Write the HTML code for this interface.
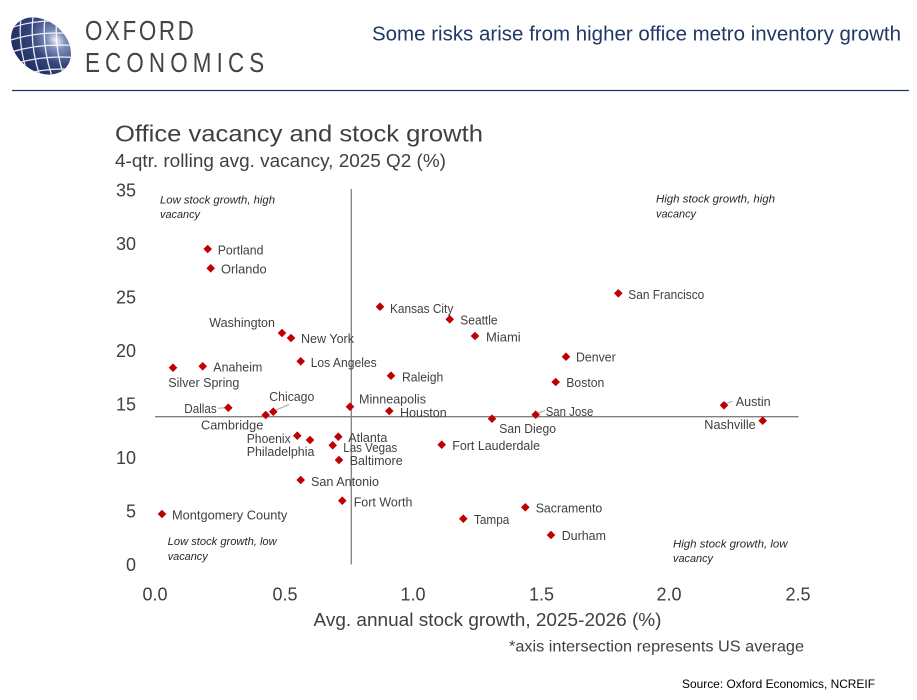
<!DOCTYPE html>
<html><head><meta charset="utf-8"><style>
html,body{margin:0;padding:0;background:#fff;}
svg{display:block;}
</style></head><body>
<svg width="917" height="700" viewBox="0 0 917 700" xmlns="http://www.w3.org/2000/svg" font-family="'Liberation Sans', Arial, sans-serif">
<defs>
<radialGradient id="gg" cx="0.62" cy="0.22" r="0.85">
<stop offset="0" stop-color="#f2f5fb"/>
<stop offset="0.18" stop-color="#8090bd"/>
<stop offset="0.5" stop-color="#34457c"/>
<stop offset="1" stop-color="#1d2a5a"/>
</radialGradient>
<clipPath id="gc"><ellipse cx="41" cy="46" rx="33" ry="25" transform="rotate(40 41 46)"/></clipPath>
</defs>
<rect width="917" height="700" fill="#fff"/>
<!-- Logo -->
<ellipse cx="41" cy="46" rx="33" ry="25" transform="rotate(40 41 46)" fill="url(#gg)"/>
<g clip-path="url(#gc)" stroke="#fff" stroke-width="1.3" fill="none" opacity="0.9">
<path d="M5,30 Q35,18 70,22"/>
<path d="M5,42 Q38,30 76,34"/>
<path d="M5,54 Q40,42 78,46"/>
<path d="M8,66 Q42,54 80,58"/>
<path d="M12,78 Q45,66 80,70"/>
<path d="M22,10 Q16,45 30,80"/>
<path d="M34,10 Q28,45 42,82"/>
<path d="M46,10 Q40,45 54,82"/>
<path d="M58,10 Q52,45 66,82"/>
</g>
<text transform="translate(85,40) scale(0.8,1)" font-size="28" fill="#444" textLength="136" lengthAdjust="spacing">OXFORD</text>
<text transform="translate(85,72) scale(0.8,1)" font-size="28" fill="#444" textLength="224" lengthAdjust="spacing">ECONOMICS</text>
<text x="372" y="40.5" font-size="20.5" fill="#1f3864" textLength="529" lengthAdjust="spacingAndGlyphs">Some risks arise from higher office metro inventory growth</text>
<line x1="12" y1="90.5" x2="909" y2="90.5" stroke="#1f3864" stroke-width="1.2"/>

<!-- Titles -->
<text x="115" y="141.7" font-size="23" fill="#404040" textLength="368" lengthAdjust="spacingAndGlyphs">Office vacancy and stock growth</text>
<text x="115" y="167" font-size="18" fill="#404040" textLength="331" lengthAdjust="spacingAndGlyphs">4-qtr. rolling avg. vacancy, 2025 Q2 (%)</text>

<!-- Y ticks -->
<g font-size="18" fill="#404040" text-anchor="end">
<text x="136" y="196.5">35</text>
<text x="136" y="250">30</text>
<text x="136" y="303.5">25</text>
<text x="136" y="357">20</text>
<text x="136" y="410.5">15</text>
<text x="136" y="464">10</text>
<text x="136" y="517.5">5</text>
<text x="136" y="571">0</text>
</g>
<!-- X ticks -->
<g font-size="18" fill="#404040" text-anchor="middle">
<text x="155" y="600.5">0.0</text>
<text x="285" y="600.5">0.5</text>
<text x="413" y="600.5">1.0</text>
<text x="541.5" y="600.5">1.5</text>
<text x="669" y="600.5">2.0</text>
<text x="798" y="600.5">2.5</text>
</g>
<text x="313.5" y="626" font-size="18.5" fill="#404040" textLength="348" lengthAdjust="spacingAndGlyphs">Avg. annual stock growth, 2025-2026 (%)</text>
<text x="509" y="651.5" font-size="16" fill="#404040" textLength="295" lengthAdjust="spacingAndGlyphs">*axis intersection represents US average</text>
<text x="682" y="688" font-size="12" fill="#000" textLength="193" lengthAdjust="spacingAndGlyphs">Source: Oxford Economics, NCREIF</text>

<!-- Axis intersection lines -->
<line x1="351.3" y1="189" x2="351.3" y2="564.5" stroke="#808080" stroke-width="1.3"/>
<line x1="155" y1="416.7" x2="798.5" y2="416.7" stroke="#808080" stroke-width="1.3"/>

<!-- Quadrant labels -->
<g font-size="11" font-style="italic" fill="#262626">
<text x="160" y="203.3" textLength="115" lengthAdjust="spacingAndGlyphs">Low stock growth, high</text>
<text x="160" y="218" textLength="40" lengthAdjust="spacingAndGlyphs">vacancy</text>
<text x="656" y="202.3" textLength="119" lengthAdjust="spacingAndGlyphs">High stock growth, high</text>
<text x="656" y="217.3" textLength="40" lengthAdjust="spacingAndGlyphs">vacancy</text>
<text x="167.7" y="545" textLength="109" lengthAdjust="spacingAndGlyphs">Low stock growth, low</text>
<text x="167.7" y="560" textLength="40" lengthAdjust="spacingAndGlyphs">vacancy</text>
<text x="673" y="547.3" textLength="114.5" lengthAdjust="spacingAndGlyphs">High stock growth, low</text>
<text x="673" y="562" textLength="40" lengthAdjust="spacingAndGlyphs">vacancy</text>
</g>

<!-- Leader lines -->
<g stroke="#a6a6a6" stroke-width="1">
<line x1="218" y1="408.3" x2="225" y2="407.8"/>
<line x1="275" y1="410.5" x2="289" y2="404.5"/>
<line x1="538" y1="413" x2="545" y2="410.5"/>
<line x1="726.5" y1="403.5" x2="732.5" y2="401.3"/>
</g>

<!-- Markers -->
<g fill="#c00000">
<path d="M207.7,244.7l4.3,4.3l-4.3,4.3l-4.3,-4.3z"/>
<path d="M210.7,264l4.3,4.3l-4.3,4.3l-4.3,-4.3z"/>
<path d="M282,328.7l4.3,4.3l-4.3,4.3l-4.3,-4.3z"/>
<path d="M291,333.7l4.3,4.3l-4.3,4.3l-4.3,-4.3z"/>
<path d="M300.7,357l4.3,4.3l-4.3,4.3l-4.3,-4.3z"/>
<path d="M202.7,362l4.3,4.3l-4.3,4.3l-4.3,-4.3z"/>
<path d="M173,363.4l4.3,4.3l-4.3,4.3l-4.3,-4.3z"/>
<path d="M228.3,403.4l4.3,4.3l-4.3,4.3l-4.3,-4.3z"/>
<path d="M273.3,407.4l4.3,4.3l-4.3,4.3l-4.3,-4.3z"/>
<path d="M265.7,410.7l4.3,4.3l-4.3,4.3l-4.3,-4.3z"/>
<path d="M297.3,431.4l4.3,4.3l-4.3,4.3l-4.3,-4.3z"/>
<path d="M310,435.7l4.3,4.3l-4.3,4.3l-4.3,-4.3z"/>
<path d="M338.3,432.4l4.3,4.3l-4.3,4.3l-4.3,-4.3z"/>
<path d="M332.7,441l4.3,4.3l-4.3,4.3l-4.3,-4.3z"/>
<path d="M339,455.7l4.3,4.3l-4.3,4.3l-4.3,-4.3z"/>
<path d="M300.7,475.7l4.3,4.3l-4.3,4.3l-4.3,-4.3z"/>
<path d="M342.3,496.4l4.3,4.3l-4.3,4.3l-4.3,-4.3z"/>
<path d="M162,509.7l4.3,4.3l-4.3,4.3l-4.3,-4.3z"/>
<path d="M350,402.4l4.3,4.3l-4.3,4.3l-4.3,-4.3z"/>
<path d="M389.3,406.7l4.3,4.3l-4.3,4.3l-4.3,-4.3z"/>
<path d="M380,302.4l4.3,4.3l-4.3,4.3l-4.3,-4.3z"/>
<path d="M449.7,315l4.3,4.3l-4.3,4.3l-4.3,-4.3z"/>
<path d="M475,331.7l4.3,4.3l-4.3,4.3l-4.3,-4.3z"/>
<path d="M391,371.4l4.3,4.3l-4.3,4.3l-4.3,-4.3z"/>
<path d="M566,352.4l4.3,4.3l-4.3,4.3l-4.3,-4.3z"/>
<path d="M555.7,377.7l4.3,4.3l-4.3,4.3l-4.3,-4.3z"/>
<path d="M535.7,410.4l4.3,4.3l-4.3,4.3l-4.3,-4.3z"/>
<path d="M492,414.4l4.3,4.3l-4.3,4.3l-4.3,-4.3z"/>
<path d="M441.7,440.4l4.3,4.3l-4.3,4.3l-4.3,-4.3z"/>
<path d="M618.3,289l4.3,4.3l-4.3,4.3l-4.3,-4.3z"/>
<path d="M724,401l4.3,4.3l-4.3,4.3l-4.3,-4.3z"/>
<path d="M762.7,416.4l4.3,4.3l-4.3,4.3l-4.3,-4.3z"/>
<path d="M525.3,503l4.3,4.3l-4.3,4.3l-4.3,-4.3z"/>
<path d="M463.3,514.4l4.3,4.3l-4.3,4.3l-4.3,-4.3z"/>
<path d="M551,530.7l4.3,4.3l-4.3,4.3l-4.3,-4.3z"/>
</g>

<!-- Point labels -->
<g font-size="13" fill="#404040">
<text x="217.7" y="254.5" textLength="45.7" lengthAdjust="spacingAndGlyphs">Portland</text>
<text x="221" y="273.5" textLength="45.7" lengthAdjust="spacingAndGlyphs">Orlando</text>
<text x="209.3" y="327" textLength="65.7" lengthAdjust="spacingAndGlyphs">Washington</text>
<text x="301" y="343" textLength="53" lengthAdjust="spacingAndGlyphs">New York</text>
<text x="310.7" y="367.2" textLength="66" lengthAdjust="spacingAndGlyphs">Los Angeles</text>
<text x="213.3" y="371.5" textLength="49" lengthAdjust="spacingAndGlyphs">Anaheim</text>
<text x="168.3" y="387.2" textLength="71" lengthAdjust="spacingAndGlyphs">Silver Spring</text>
<text x="184.3" y="413" textLength="32.4" lengthAdjust="spacingAndGlyphs">Dallas</text>
<text x="269.3" y="401.2" textLength="45" lengthAdjust="spacingAndGlyphs">Chicago</text>
<text x="201" y="429.5" textLength="62.3" lengthAdjust="spacingAndGlyphs">Cambridge</text>
<text x="246.7" y="442.8" textLength="44" lengthAdjust="spacingAndGlyphs">Phoenix</text>
<text x="246.7" y="456.2" textLength="67.7" lengthAdjust="spacingAndGlyphs">Philadelphia</text>
<text x="348.3" y="441.8" textLength="39" lengthAdjust="spacingAndGlyphs">Atlanta</text>
<text x="343.3" y="451.8" textLength="54" lengthAdjust="spacingAndGlyphs">Las Vegas</text>
<text x="349.7" y="465.2" textLength="53" lengthAdjust="spacingAndGlyphs">Baltimore</text>
<text x="311" y="486.2" textLength="68" lengthAdjust="spacingAndGlyphs">San Antonio</text>
<text x="353.7" y="506.5" textLength="58.7" lengthAdjust="spacingAndGlyphs">Fort Worth</text>
<text x="172" y="519.5" textLength="115.3" lengthAdjust="spacingAndGlyphs">Montgomery County</text>
<text x="359" y="403.5" textLength="67" lengthAdjust="spacingAndGlyphs">Minneapolis</text>
<text x="400" y="417.2" textLength="46.7" lengthAdjust="spacingAndGlyphs">Houston</text>
<text x="390" y="312.8" textLength="63.3" lengthAdjust="spacingAndGlyphs">Kansas City</text>
<text x="460.3" y="324.5" textLength="37.3" lengthAdjust="spacingAndGlyphs">Seattle</text>
<text x="486" y="341.5" textLength="34.7" lengthAdjust="spacingAndGlyphs">Miami</text>
<text x="402" y="381.5" textLength="41.3" lengthAdjust="spacingAndGlyphs">Raleigh</text>
<text x="576" y="361.5" textLength="39.7" lengthAdjust="spacingAndGlyphs">Denver</text>
<text x="566.3" y="387.2" textLength="38" lengthAdjust="spacingAndGlyphs">Boston</text>
<text x="545.7" y="416.2" textLength="47.6" lengthAdjust="spacingAndGlyphs">San Jose</text>
<text x="499.3" y="432.8" textLength="56.7" lengthAdjust="spacingAndGlyphs">San Diego</text>
<text x="452.3" y="450.2" textLength="87.7" lengthAdjust="spacingAndGlyphs">Fort Lauderdale</text>
<text x="628.3" y="298.8" textLength="76" lengthAdjust="spacingAndGlyphs">San Francisco</text>
<text x="735.7" y="406.2" textLength="35" lengthAdjust="spacingAndGlyphs">Austin</text>
<text x="704.3" y="428.8" textLength="51.4" lengthAdjust="spacingAndGlyphs">Nashville</text>
<text x="535.7" y="512.5" textLength="66.6" lengthAdjust="spacingAndGlyphs">Sacramento</text>
<text x="474" y="524.2" textLength="35.3" lengthAdjust="spacingAndGlyphs">Tampa</text>
<text x="561.7" y="540.2" textLength="44.3" lengthAdjust="spacingAndGlyphs">Durham</text>
</g>
</svg>
</body></html>
